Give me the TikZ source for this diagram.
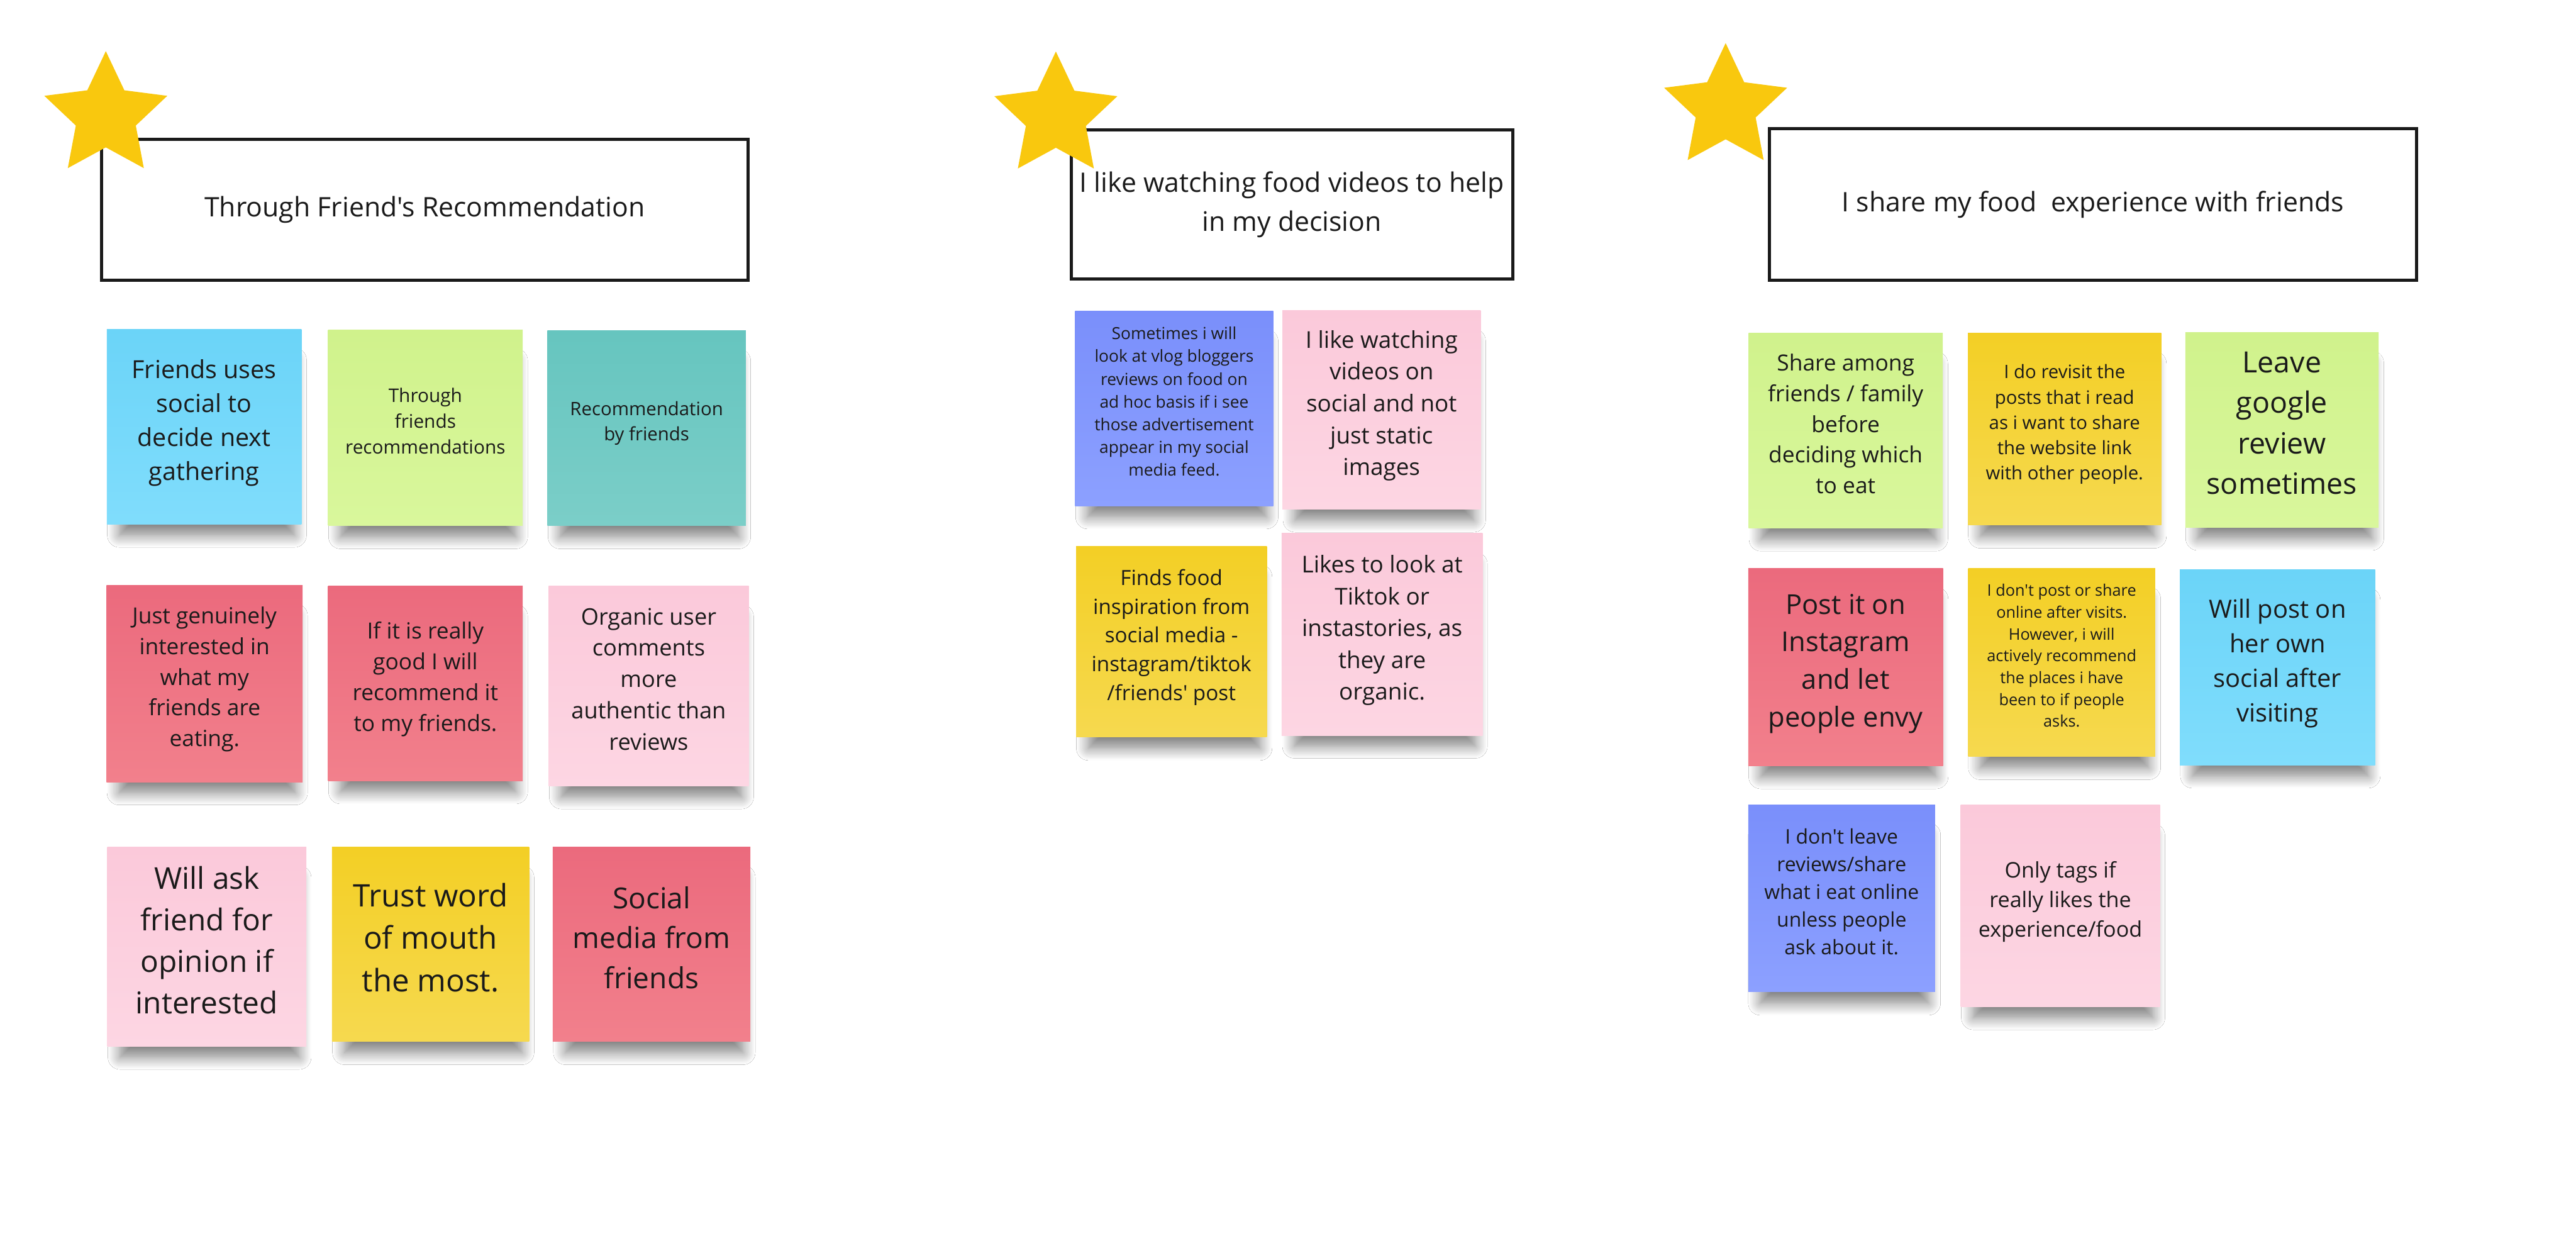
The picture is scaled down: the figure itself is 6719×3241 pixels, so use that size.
\documentclass[tikz,border=0pt]{standalone}
\usepackage{fontspec}
\setmainfont{Open Sans}[Ligatures=TeXOff]
\usepackage{xcolor}
\usepackage{tikz}
\usetikzlibrary{shapes.geometric,shadows.blur}

\definecolor{starYellow}{HTML}{F9C80E}
\definecolor{ink}{HTML}{1A1A1A}
\definecolor{skyTop}{HTML}{6BD4F8}    \definecolor{skyBot}{HTML}{80DDFC}
\definecolor{limeTop}{HTML}{D0F28C}   \definecolor{limeBot}{HTML}{D9F79C}
\definecolor{tealTop}{HTML}{66C5BF}   \definecolor{tealBot}{HTML}{7BCEC8}
\definecolor{roseTop}{HTML}{EB6A7D}   \definecolor{roseBot}{HTML}{F2808C}
\definecolor{blushTop}{HTML}{FBC9DA}  \definecolor{blushBot}{HTML}{FDD6E3}
\definecolor{goldTop}{HTML}{F3CF25}   \definecolor{goldBot}{HTML}{F6D94F}
\definecolor{violetTop}{HTML}{7A8FFB} \definecolor{violetBot}{HTML}{8CA0FF}

\newcommand{\fsz}[2]{\fontsize{#1}{#2}\selectfont}

\tikzset{
	note/.style={minimum width=5.1cm, minimum height=5.1cm, inner sep=0pt,
		align=center, text=ink, text depth=0.36cm,
		blur shadow={shadow xshift=0.08cm, shadow yshift=-0.6cm,
			shadow scale=0.9, shadow opacity=50, shadow blur radius=0.35cm,
			shadow blur steps=12}},
	skynote/.style={note, top color=skyTop, bottom color=skyBot},
	limenote/.style={note, top color=limeTop, bottom color=limeBot},
	tealnote/.style={note, top color=tealTop, bottom color=tealBot},
	rosenote/.style={note, top color=roseTop, bottom color=roseBot},
	blushnote/.style={note, top color=blushTop, bottom color=blushBot},
	goldnote/.style={note, top color=goldTop, bottom color=goldBot},
	violetnote/.style={note, top color=violetTop, bottom color=violetBot},
	titlebox/.style={draw=ink, line width=2.3pt, fill=white, align=center,
		text=ink, font=\fsz{19.95}{28.5}},
	starmark/.style={star, star points=5, star point ratio=2.05,
		minimum size=3.37cm, inner sep=0pt, fill=starYellow}
}

\begin{document}
\begin{tikzpicture}[x=0.01cm, y=-0.01cm]
		\fill[white] (0,0) rectangle (6719,3241);
		\useasboundingbox (0,0) rectangle (6719,3241);
		% column 1: friend's recommendation
		\node[titlebox, minimum width=16.84cm, minimum height=3.66cm] (head1)
		at (1108,547) {Through Friend's Recommendation};
		\node[starmark] (star1) at (276,302) {};
		\node[skynote, minimum width=5.07cm, minimum height=5.08cm, font=\fsz{18.4}{25.3}]
		(friendsSocial) at (532.5,1113) {Friends uses\\social to\\decide next\\gathering};
		\node[limenote, minimum width=5.07cm, font=\fsz{13.9}{19}]
		(throughRec) at (1109.5,1116) {Through\\friends\\recommendations};
		\node[tealnote, minimum width=5.17cm, minimum height=5.09cm, font=\fsz{13.7}{18.8}]
		(recByFriends) at (1686.5,1116.5) {Recommendation\\by friends};
		\node[rosenote, minimum width=5.11cm, minimum height=5.13cm, font=\fsz{16.5}{22.8}]
		(genuine) at (533.5,1782.5) {Just genuinely\\interested in\\what my\\friends are\\eating.};
		\node[rosenote, minimum width=5.07cm, minimum height=5.08cm, font=\fsz{16.5}{22.8}]
		(reallyGood) at (1109.5,1782) {If it is really\\good I will\\recommend it\\to my friends.};
		\node[blushnote, minimum width=5.22cm, minimum height=5.22cm, font=\fsz{16.9}{23.3}]
		(organic) at (1692,1789) {Organic user\\comments\\more\\authentic than\\reviews};
		\node[blushnote, minimum width=5.19cm, minimum height=5.2cm, font=\fsz{22.3}{30.7}]
		(askFriend) at (539.5,2469) {Will ask\\friend for\\opinion if\\interested};
		\node[goldnote, minimum width=5.14cm, minimum height=5.07cm, font=\fsz{23}{31.6}]
		(wordMouth) at (1123,2462.5) {Trust word\\of mouth\\the most.};
		\node[rosenote, minimum width=5.15cm, minimum height=5.07cm, font=\fsz{21.5}{29.6}]
		(socialMedia) at (1699.5,2462.5) {Social\\media from\\friends};
		% column 2: food videos
		\node[titlebox, minimum width=11.51cm, minimum height=3.89cm] (head2)
		at (3369.5,533.5) {I like watching food videos to help\\in my decision};
		\node[starmark] (star2) at (2754,303) {};
		\node[violetnote, minimum width=5.17cm, minimum height=5.08cm, font=\fsz{12.3}{16.9}]
		(vlogReviews) at (3062.5,1065) {Sometimes i will\\look at vlog bloggers\\reviews on food on\\ad hoc basis if i see\\those advertisement\\appear in my social\\media feed.};
		\node[blushnote, minimum width=5.17cm, minimum height=5.19cm, font=\fsz{17.2}{23.6}]
		(likeVideos) at (3603.5,1068.5) {I like watching\\videos on\\social and not\\just static\\images};
		\node[goldnote, minimum width=4.97cm, minimum height=4.97cm, font=\fsz{15.5}{21.3}]
		(inspiration) at (3055.5,1673.5) {Finds food\\inspiration from\\social media -\\instagram/tiktok\\/friends' post};
		\node[blushnote, minimum width=5.24cm, minimum height=5.27cm, font=\fsz{17.2}{23.6}]
		(tiktok) at (3605,1654.5) {Likes to look at\\Tiktok or\\instastories, as\\they are\\organic.};
		% column 3: sharing the experience
		\node[titlebox, minimum width=16.86cm, minimum height=3.94cm] (head3)
		at (5459,533) {I share my food~ experience with friends};
		\node[starmark] (star3) at (4501,281) {};
		\node[limenote, minimum width=5.06cm, minimum height=5.08cm, font=\fsz{16.5}{22.8}]
		(shareFamily) at (4814,1123) {Share among\\friends / family\\before\\deciding which\\to eat};
		\node[goldnote, minimum width=5.04cm, minimum height=5cm, font=\fsz{13.7}{18.8}]
		(revisit) at (5385,1119) {I do revisit the\\posts that i read\\as i want to share\\the website link\\with other people.};
		\node[limenote, minimum width=5.04cm, minimum height=5.08cm, font=\fsz{21.7}{29.9}]
		(googleReview) at (5952,1121) {Leave\\google\\review\\sometimes};
		\node[rosenote, minimum width=5.08cm, minimum height=5.14cm, font=\fsz{20.3}{27.9}]
		(instagram) at (4814,1740) {Post it on\\Instagram\\and let\\people envy};
		\node[goldnote, minimum width=4.87cm, minimum height=4.89cm, font=\fsz{11.8}{16.2}]
		(noPost) at (5377.5,1727.5) {I don't post or share\\online after visits.\\However, i will\\actively recommend\\the places i have\\been to if people\\asks.};
		\node[skynote, minimum width=5.09cm, font=\fsz{18.6}{25.6}]
		(ownSocial) at (5940.5,1740) {Will post on\\her own\\social after\\visiting};
		\node[violetnote, minimum width=4.87cm, minimum height=4.87cm, font=\fsz{14.9}{20.5}]
		(noReviews) at (4803.5,2342.5) {I don't leave\\reviews/share\\what i eat online\\unless people\\ask about it.};
		\node[blushnote, minimum width=5.2cm, minimum height=5.27cm, font=\fsz{15.9}{21.9}]
		(onlyTags) at (5374,2362.5) {Only tags if\\really likes the\\experience/food};
	\end{tikzpicture}
\end{document}
